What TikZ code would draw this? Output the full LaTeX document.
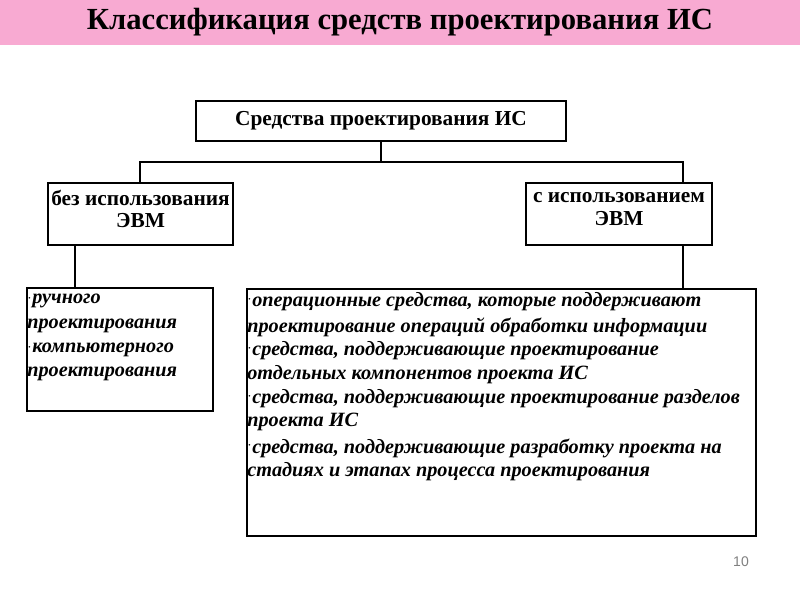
\documentclass[tikz,border=0pt]{standalone}
\usepackage{fontspec}
\setmainfont{Liberation Serif}
\newfontfamily\arialf{Liberation Sans}
\begin{document}
\begin{tikzpicture}[x=0.75pt,y=-0.75pt,
  bx/.style={draw,line width=0.8pt},
  conn/.style={line width=0.8pt},
  hd/.style={font=\fontsize{16}{17}\selectfont\bfseries,align=center},
  it/.style={anchor=west,inner sep=0pt,font=\fontsize{15.2}{17}\selectfont\bfseries\itshape},
  bul/.style={anchor=east,inner sep=0pt,font=\fontsize{5}{5}\selectfont}]
\useasboundingbox (0,0) rectangle (800,600);
\fill[white] (0,0) rectangle (800,600);
\fill[fill={rgb,255:red,248;green,170;blue,210}] (0,0) rectangle (800,45);
\node (title) at (400,22) {\fontsize{23}{25}\selectfont\bfseries Классификация средств проектирования ИС};
\node[bx,minimum width=370*0.75pt,minimum height=40*0.75pt] (top) at (381,121) {};
\node[hd] at (top) {Средства проектирования ИС};
\node[bx,minimum width=185*0.75pt,minimum height=62*0.75pt] (l) at (140.5,214) {};
\node[hd] at (140.5,209) {без использования\\ЭВМ};
\node[bx,minimum width=186*0.75pt,minimum height=62*0.75pt] (r) at (619,214) {};
\node[hd] at (619,209) {с использованием\\ЭВМ};
\node[bx,minimum width=186*0.75pt,minimum height=123*0.75pt] (lb) at (120,349.5) {};
\node[bx,minimum width=509*0.75pt,minimum height=247*0.75pt] (rb) at (501.5,412.5) {};
\coordinate (j) at (381,162);
\draw[conn] (top.south) -- (j);
\draw[conn] (l.north -| 140,0) |- (j) -| (683,183);
\draw[conn] (75,245) -- (75,288);
\draw[conn] (683,245) -- (683,289);
% left text
\node[bul] at (31,299) {•};
\node[it] at (32,301) {ручного};
\node[it] at (27,326) {проектирования};
\node[bul] at (31,348) {•};
\node[it] at (32,350) {компьютерного};
\node[it] at (27,374) {проектирования};
% right text
\node[bul] at (251,300) {•};
\node[it] at (252,302) {операционные средства, которые поддерживают};
\node[it] at (247,327) {проектирование операций обработки информации};
\node[bul] at (251,349) {•};
\node[it] at (252,351) {средства, поддерживающие проектирование};
\node[it] at (247,375) {отдельных компонентов проекта ИС};
\node[bul] at (251,397) {•};
\node[it] at (252,399) {средства, поддерживающие проектирование разделов};
\node[it] at (247,422) {проекта ИС};
\node[bul] at (251,446) {•};
\node[it] at (252,448) {средства, поддерживающие разработку проекта на};
\node[it] at (247,472) {стадиях и этапах процесса проектирования};
\node[text=gray] (pg) at (741,562) {\arialf\fontsize{10.5}{11}\selectfont 10};
\end{tikzpicture}
\end{document}
